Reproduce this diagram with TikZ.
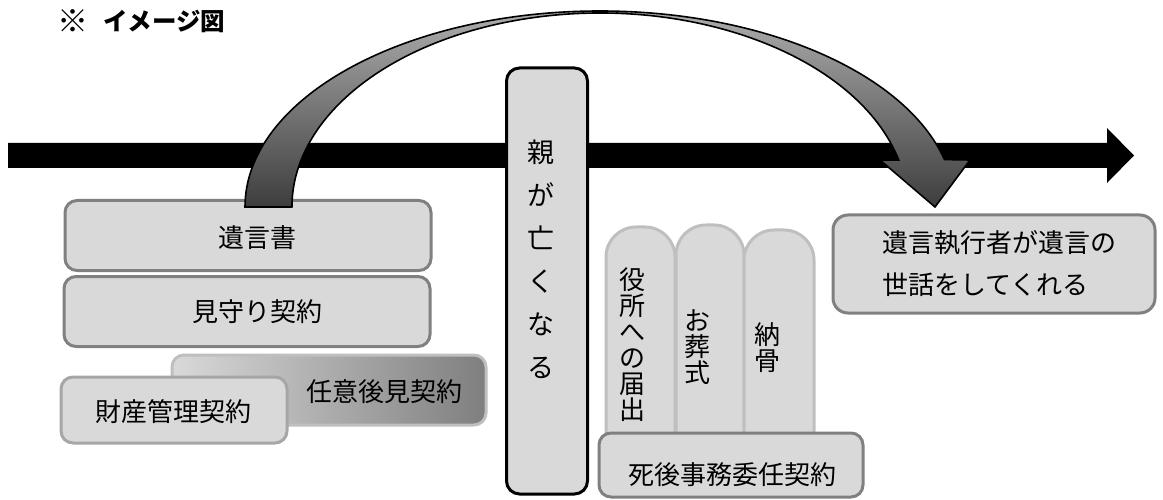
\documentclass[tikz,border=0pt]{standalone}
\usepackage{fontspec}
\setmainfont{Noto Sans CJK JP}
\definecolor{boxfill}{HTML}{D9D9D9}
\definecolor{edgemid}{HTML}{808080}
\definecolor{edgesoft}{HTML}{A6A6A6}
\definecolor{edgelight}{HTML}{BFBFBF}
\definecolor{darkend}{HTML}{7F7F7F}
\begin{document}
\begin{tikzpicture}[x=1pt,y=-1pt,
  box/.style={draw=edgemid, line width=3pt, fill=boxfill, rounded corners=12pt, inner sep=0pt},
  vbox/.style={draw=edgelight, line width=3pt, fill=boxfill, rounded corners=30pt, inner sep=0pt},
  txt/.style={font=\fontsize{26}{30}\selectfont, inner sep=0pt, align=center},
  vtxt/.style={font=\fontsize{26}{26}\selectfont, inner sep=0pt, align=center},
  curvarrow/.style={draw=black, line width=1.6pt, line join=miter, top color=black!28, bottom color=black!76}]
\useasboundingbox (0,0) rectangle (1163,500);

% title
\node[anchor=west, font=\fontsize{24.5}{28}\selectfont\bfseries, inner sep=0pt] (title) at (57,21) {\raisebox{-1.5pt}{\fontsize{31}{31}\selectfont ※}\hspace{15pt}イメージ図};

% timeline arrow
\fill[black] (8,143) -- (1107,143) -- (1107,128) -- (1134,155.5) -- (1107,183) -- (1107,168) -- (8,168) -- cycle;

% left boxes
\node[box, minimum width=366pt, minimum height=70pt] (willbox) at (248,235.5) {};
\node[txt] (will) at (257,238) {遺言書};
\node[box, minimum width=366pt, minimum height=70pt] (watchbox) at (247,311.5) {};
\node[txt] (watch) at (257,312) {見守り契約};
\node[draw=edgelight, line width=3pt, left color=boxfill, right color=darkend, rounded corners=12pt,
      minimum width=314pt, minimum height=70pt, inner sep=0pt] (guardbox) at (329,390) {};
\node[txt] (guard) at (384,392) {任意後見契約};
\node[box, draw=edgesoft, minimum width=226pt, minimum height=66pt] (propbox) at (174,410) {};
\node[txt] (prop) at (173,412) {財産管理契約};

% parent box
\node[box, draw=black, rounded corners=13pt, minimum width=81pt, minimum height=426pt] (parentbox) at (547,281) {};
\node[font=\fontsize{27}{43}\selectfont, inner sep=0pt, align=center] (parent) at (541,259) {親\\が\\亡\\く\\な\\る};

% vertical task boxes
\node[vbox, minimum width=69pt, minimum height=240pt] (officebox) at (640.5,347) {};
\node[vtxt] (office) at (632,345) {役\\所\\へ\\の\\届\\出};
\node[vbox, minimum width=68pt, minimum height=240pt] (funeralbox) at (710,345) {};
\node[vtxt] (funeral) at (697,347) {お\\葬\\式};
\node[vbox, minimum width=70pt, minimum height=236pt] (bonebox) at (779,348) {};
\node[vtxt] (bone) at (767,348) {納\\骨};
\node[box, minimum width=264pt, minimum height=64pt] (afterbox) at (731,465) {};
\node[txt] (after) at (732,475) {死後事務委任契約};

% executor box
\node[box, rounded corners=15pt, minimum width=322pt, minimum height=98pt] (execbox) at (994,264) {};
\node[font=\fontsize{26}{42}\selectfont, inner sep=0pt, align=left, anchor=west] (exec) at (882,264) {遺言執行者が遺言の\\世話をしてくれる};

% curved arrow
\draw[curvarrow] (245,207) arc[start angle=180, end angle=14, x radius=355pt, y radius=196pt]
  -- (970,160) -- (935,207) -- (880,160) -- (898.8,160.1)
  arc[start angle=14, end angle=180, x radius=308pt, y radius=194pt] -- cycle;
\end{tikzpicture}
\end{document}
